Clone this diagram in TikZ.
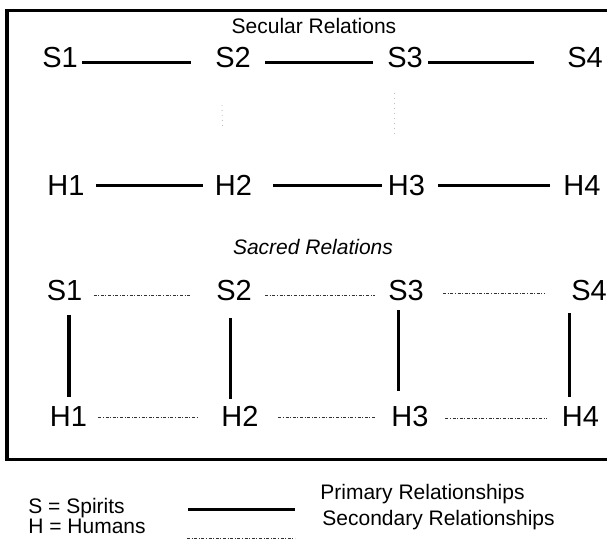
\documentclass[tikz,border=0pt]{standalone}
\usepackage{fontspec}
\setmainfont{Liberation Sans}
\begin{document}
\begin{tikzpicture}[x=0.5pt, y=-0.5pt,
        lbl/.style={anchor=base, inner sep=0pt, font=\fontsize{14.5}{17}\selectfont},
        head/.style={anchor=base, inner sep=0pt, font=\fontsize{10.5}{12}\selectfont},
        key/.style={anchor=base west, inner sep=0pt, font=\fontsize{10.5}{12}\selectfont},
        primary/.style={line width=1.5pt},
        secondary/.style={line width=0.45pt, black!80, dash pattern=on 1.5pt off 0.8pt on 0.5pt off 0.8pt},
        faint/.style={line width=0.4pt, black!25, dash pattern=on 0.5pt off 2pt}]
    \useasboundingbox (0,0) rectangle (607,541);
    \draw[line width=1.5pt] (7,10) rectangle (640,459);
        % secular relations
        \node(100) at (314,33) [head] {Secular Relations};
        \node(11) at (60,67) [lbl] {S1};
        \node(12) at (233,67) [lbl] {S2};
        \node(13) at (405,67) [lbl] {S3};
        \node(14) at (585,67) [lbl] {S4};
        \node(21) at (66,195) [lbl] {H1};
        \node(22) at (233.5,195) [lbl] {H2};
        \node(23) at (406.5,195) [lbl] {H3};
        \node(24) at (582,195) [lbl] {H4};
        \draw [primary] ([shift={(4,-5)}]11.base east) -- ([shift={(-24,-5)}]12.base west);
        \draw [primary] ([shift={(14,-5)}]12.base east) -- ([shift={(-14,-5)}]13.base west);
        \draw [primary] ([shift={(5,-5)}]13.base east) -- ([shift={(-33,-5)}]14.base west);
        \draw [primary] ([shift={(11.5,-10)}]21.base east) -- ([shift={(-12,-10)}]22.base west);
        \draw [primary] ([shift={(21,-10)}]22.base east) -- ([shift={(-6,-10)}]23.base west);
        \draw [primary] ([shift={(13,-10)}]23.base east) -- ([shift={(-13,-10)}]24.base west);
        \draw [faint] ([shift={(-11,38)}]12.base) -- ([shift={(-11,-68)}]22.base);
        \draw [faint] ([shift={(-11,26)}]13.base) -- ([shift={(-12.5,-58)}]23.base);
        % sacred relations
        \node(200) at (313,254) [head, font=\fontsize{10.5}{12}\selectfont\itshape] {Sacred Relations};
        \node(31) at (64.5,300) [lbl] {S1};
        \node(32) at (234,300) [lbl] {S2};
        \node(33) at (406,300) [lbl] {S3};
        \node(34) at (589,300) [lbl] {S4};
        \node(41) at (68.5,426) [lbl] {H1};
        \node(42) at (240,426) [lbl] {H2};
        \node(43) at (410,426) [lbl] {H3};
        \node(44) at (580.5,426) [lbl] {H4};
        \draw [secondary] ([shift={(11,-5)}]31.base east) -- ([shift={(-26,-5)}]32.base west);
        \draw [secondary] ([shift={(13,-5)}]32.base east) -- ([shift={(-13,-5)}]33.base west);
        \draw [secondary] ([shift={(19,-7)}]33.base east) -- ([shift={(-26,-7)}]34.base west);
        \draw [secondary] ([shift={(11,-9)}]41.base east) -- ([shift={(-23.5,-9)}]42.base west);
        \draw [secondary] ([shift={(19.5,-9)}]42.base east) -- ([shift={(-16.5,-9)}]43.base west);
        \draw [secondary] ([shift={(16.5,-8)}]43.base east) -- ([shift={(-15,-8)}]44.base west);
        \draw [primary] ([shift={(4.5,15)}]31.base) -- ([shift={(0.5,-29)}]41.base);
        \draw [primary] ([shift={(-4,18)}]32.base) -- ([shift={(-10,-27)}]42.base);
        \draw [primary] ([shift={(-8,10)}]33.base) -- ([shift={(-12,-35)}]43.base);
        \draw [primary] ([shift={(-20,13)}]34.base) -- ([shift={(-11.5,-29)}]44.base);
        % key
        \node(301) at (28,513.5) [key] {S = Spirits};
        \node(302) at (28,533.5) [key] {H = Humans};
        \node(311) at (320,499) [key] {Primary Relationships};
        \node(312) at (322,525) [key] {Secondary Relationships};
        \coordinate (p1) at (188,509);
        \coordinate (p2) at (295,509);
        \coordinate (q1) at (187,538);
        \coordinate (q2) at (295,538);
        \draw [primary] (p1) -- (p2);
        \draw [secondary] (q1) -- (q2);
    \end{tikzpicture}
\end{document}
